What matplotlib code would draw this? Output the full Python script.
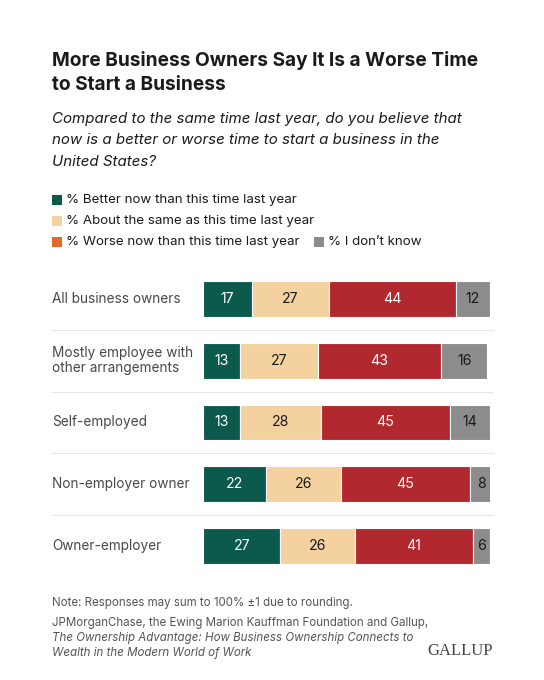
import matplotlib
matplotlib.use("Agg")
import matplotlib.pyplot as plt
from matplotlib.transforms import blended_transform_factory
from matplotlib.patches import Rectangle

categories = ["All business owners", "Mostly employee with\nother arrangements",
              "Self-employed", "Non-employer owner", "Owner-employer"]
better = [17, 13, 13, 22, 27]
same = [27, 27, 28, 26, 26]
worse = [44, 43, 45, 45, 41]
dontknow = [12, 16, 14, 8, 6]
series_names = ["% Better now than this time last year",
                "% About the same as this time last year",
                "% Worse now than this time last year",
                "% I don\u2019t know"]

plt.rcParams['font.family'] = ['Inter', 'DejaVu Sans']

W, H = 544, 680
fig = plt.figure(figsize=(W / 100, H / 100), dpi=100)
fig.patch.set_facecolor("white")

def fx(px):
    return px / W

def fy(py):
    return 1 - py / H

bar_colors = ["#0b5a4c", "#f3d2a0", "#b1282e", "#8c8c8c"]
legend_colors = ["#0b5a4c", "#f3d2a0", "#e06a2a", "#8c8c8c"]
text_colors = ["white", "#1a1a1a", "white", "#1a1a1a"]

# Title and subtitle
fig.text(fx(52), fy(61), "More Business Owners Say It Is a Worse Time",
         fontsize=13.75, fontweight="bold", color="#1a1a1a", va="center", ha="left")
fig.text(fx(52), fy(85), "to Start a Business",
         fontsize=13.75, fontweight="bold", color="#1a1a1a", va="center", ha="left")
for i, line in enumerate(["Compared to the same time last year, do you believe that",
                          "now is a better or worse time to start a business in the",
                          "United States?"]):
    fig.text(fx(52), fy(119 + i * 21.5), line, fontsize=10.85, style="italic",
             color="#1a1a1a", va="center", ha="left")

# Legend
leg_pos = [(52, 200), (52, 221), (52, 242), (314, 242)]
for (x, y), name, c in zip(leg_pos, series_names, legend_colors):
    fig.patches.append(Rectangle((fx(x), fy(y + 5)), fx(10), 10 / H,
                                 transform=fig.transFigure, facecolor=c,
                                 edgecolor="none"))
    fig.text(fx(x + 14), fy(y), name, fontsize=9.6, color="#1a1a1a",
             va="center", ha="left")

# Bars
ax = fig.add_axes([fx(203), fy(577), fx(490) - fx(203), (577 - 268) / H])
n = len(categories)
ypos = list(range(n))
left = [0] * n
for vals, c, tc in zip([better, same, worse, dontknow], bar_colors, text_colors):
    ax.barh(ypos, vals, left=left, height=0.58, color=c, edgecolor="white",
            linewidth=0.8)
    for i, v in enumerate(vals):
        ax.text(left[i] + v / 2, i, str(v), ha="center", va="center",
                fontsize=10.2, color=tc)
    left = [l + v for l, v in zip(left, vals)]

ax.set_xlim(0, 100)
ax.set_ylim(n - 0.5, -0.5)
ax.axis("off")

trans = blended_transform_factory(fig.transFigure, ax.transData)
for i in range(n):
    ax.text(fx(52), i, categories[i], transform=trans, ha="left", va="center",
            fontsize=9.8, color="#484848", linespacing=1.1)
for i in range(n - 1):
    ax.plot([fx(52), fx(493)], [i + 0.5, i + 0.5], transform=trans,
            color="#e6e6e6", linewidth=0.8, clip_on=False)

# Notes
fig.text(fx(52), fy(603), "Note: Responses may sum to 100% \u00b11 due to rounding.",
         fontsize=8.3, color="#555555", va="center", ha="left")
fig.text(fx(52), fy(623), "JPMorganChase, the Ewing Marion Kauffman Foundation and Gallup,",
         fontsize=8.3, color="#555555", va="center", ha="left")
fig.text(fx(52), fy(638), "The Ownership Advantage: How Business Ownership Connects to",
         fontsize=8.3, color="#555555", va="center", ha="left", style="italic")
fig.text(fx(52), fy(653), "Wealth in the Modern World of Work",
         fontsize=8.3, color="#555555", va="center", ha="left", style="italic")
fig.text(fx(493), fy(651), "GALLUP", fontsize=12, color="#444444", va="center",
         ha="right", family=["Liberation Serif", "DejaVu Serif"])

fig.savefig("out.png", dpi=100, facecolor="white")
